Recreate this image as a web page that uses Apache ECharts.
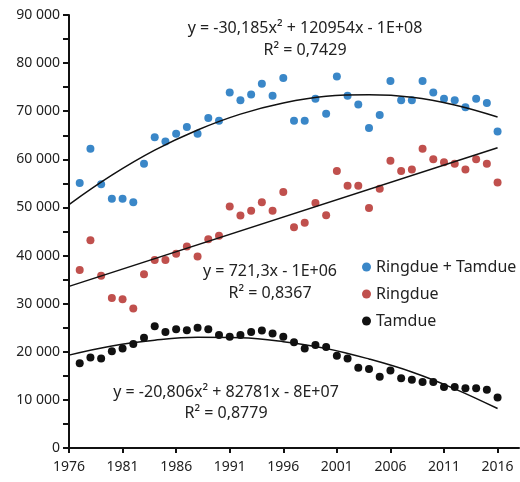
<!DOCTYPE html>
<html>
<head>
<meta charset="utf-8">
<script src="https://cdn.jsdelivr.net/npm/echarts@6/dist/echarts.min.js"></script>
<style>
  html, body { margin: 0; padding: 0; background: #fff; }
  #main { width: 520px; height: 482px; }
</style>
</head>
<body>
<div id="main"></div>
<script>
// 年份 1977–2016
const years = [];
for (let y = 1977; y <= 2016; y++) years.push(y);

// 读图得到的数据
const totalVals = [55100, 62200, 54800, 51800, 51800, 51100, 59100, 64600, 63700, 65300,
  66700, 65300, 68600, 68000, 73900, 72300, 73500, 75700, 73200, 76900,
  68000, 68000, 72600, 69500, 77200, 73200, 71400, 66500, 69200, 76300,
  72300, 72300, 76300, 73900, 72600, 72300, 70800, 72600, 71700, 65800];
const ringVals = [37000, 43200, 35800, 31200, 30900, 29000, 36100, 39100, 39100, 40400,
  41900, 39800, 43400, 44100, 50200, 48300, 49300, 51100, 49300, 53200,
  45900, 46800, 50900, 48400, 57600, 54500, 54500, 49900, 53900, 59700,
  57600, 57900, 62200, 60000, 59400, 59100, 57900, 60000, 59100, 55200];
const tamVals = [17600, 18800, 18600, 20100, 20700, 21600, 22900, 25300, 24100, 24700,
  24500, 25000, 24700, 23500, 23100, 23500, 24100, 24400, 23800, 23100,
  22000, 20700, 21400, 21000, 19200, 18600, 16700, 16400, 14800, 16100,
  14500, 14200, 13700, 13700, 12700, 12700, 12400, 12400, 12100, 10500];

// 趋势线
const trendYears = [1976, 1980, 1984, 1988, 1992, 1996, 2000, 2004, 2008, 2012, 2016];
const totalTrend = [50600, 56700, 61900, 66100, 69400, 71700, 73100, 73400, 72900, 71300, 68800];
const tamTrend = [19300, 21200, 22400, 23000, 22900, 22100, 20700, 18500, 15800, 12300, 8200];
const ringTrendYears = [1976, 2016];
const ringTrend = [33600, 62400];

const xTicks = [1976, 1981, 1986, 1991, 1996, 2001, 2006, 2011, 2016];
const seriesNames = ["Ringdue + Tamdue", "Ringdue", "Tamdue"];
const colors = ["#3a87c8", "#c0504d", "#111111"];

const pair = (xs, ys) => xs.map((x, i) => [x, ys[i]]);

const chart = echarts.init(document.getElementById("main"));
const font = "Noto Sans";

// 趋势线公式文字（居中）
const eqText = (txt, x, y) => ({
  type: "text", x: x, y: y,
  style: { text: txt, font: "16px " + font, fill: "#222", textAlign: "center", textVerticalAlign: "middle" }
});

const option = {
  animation: false,
  grid: { left: 69, right: 1, top: 15, bottom: 34 },
  legend: {
    data: seriesNames,
    orient: "vertical",
    left: 357, top: 254,
    itemWidth: 9, itemHeight: 9, itemGap: 11,
    icon: "circle",
    textStyle: { fontFamily: font, fontSize: 16, color: "#222" }
  },
  xAxis: {
    type: "value", min: 1976, max: 2018,
    axisLine: { lineStyle: { color: "#111", width: 2 } },
    axisTick: { customValues: xTicks, length: 5, lineStyle: { color: "#111", width: 2 } },
    axisLabel: {
      customValues: xTicks, fontFamily: font, fontSize: 14, color: "#222", margin: 12,
      formatter: (v) => String(v)
    },
    splitLine: { show: false }
  },
  yAxis: {
    type: "value", min: 0, max: 90000, interval: 5000,
    axisLine: { show: true, lineStyle: { color: "#111", width: 2 } },
    axisTick: { show: true, length: 6, lineStyle: { color: "#111", width: 2 } },
    axisLabel: {
      fontFamily: font, fontSize: 14, color: "#222", margin: 9,
      formatter: (v) => v % 10000 !== 0 ? "" : (v === 0 ? "0" : (v / 1000) + " 000")
    },
    splitLine: { show: false }
  },
  graphic: [
    eqText("y = -30,185x² + 120954x - 1E+08", 305, 28),
    eqText("R² = 0,7429", 305, 50),
    eqText("y = 721,3x - 1E+06", 270, 271),
    eqText("R² = 0,8367", 270, 293),
    eqText("y = -20,806x² + 82781x - 8E+07", 226, 392),
    eqText("R² = 0,8779", 226, 413)
  ],
  series: [
    { name: seriesNames[0], type: "scatter", data: pair(years, totalVals), symbolSize: 8, itemStyle: { color: colors[0], opacity: 1 }, z: 3 },
    { name: seriesNames[1], type: "scatter", data: pair(years, ringVals), symbolSize: 8, itemStyle: { color: colors[1], opacity: 1 }, z: 3 },
    { name: seriesNames[2], type: "scatter", data: pair(years, tamVals), symbolSize: 8, itemStyle: { color: colors[2], opacity: 1 }, z: 3 },
    { type: "line", data: pair(trendYears, totalTrend), smooth: 0.4, showSymbol: false, lineStyle: { color: "#111", width: 1.5 }, z: 4 },
    { type: "line", data: pair(ringTrendYears, ringTrend), showSymbol: false, lineStyle: { color: "#111", width: 1.5 }, z: 4 },
    { type: "line", data: pair(trendYears, tamTrend), smooth: 0.4, showSymbol: false, lineStyle: { color: "#111", width: 1.5 }, z: 4 }
  ]
};

chart.setOption(option);
</script>
</body>
</html>
